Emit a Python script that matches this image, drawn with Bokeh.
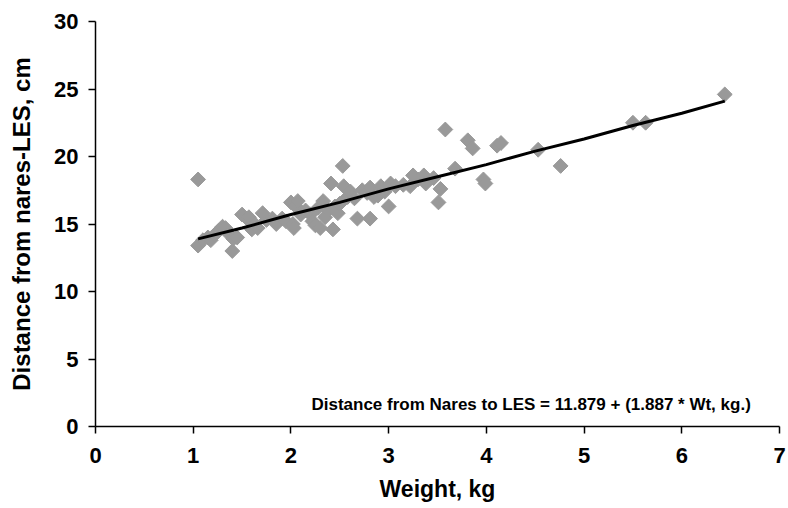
import numpy as np
from bokeh.plotting import figure
from bokeh.models import Range1d, Label, FixedTicker
from bokeh.embed import file_html
from bokeh.resources import INLINE

# Data
weight = [1.05, 1.05, 1.10, 1.15, 1.18, 1.22, 1.26, 1.30, 1.33, 1.36, 1.40, 1.41, 1.45,
          1.50, 1.55, 1.57, 1.60, 1.63, 1.66, 1.71, 1.75, 1.81, 1.85, 1.91, 1.95,
          2.00, 2.02, 2.03, 2.05, 2.07, 2.10, 2.15, 2.20, 2.22, 2.25, 2.28, 2.30,
          2.33, 2.35, 2.38, 2.41, 2.43, 2.45, 2.48, 2.50, 2.53, 2.54, 2.58, 2.61,
          2.65, 2.68, 2.73, 2.78, 2.81, 2.81, 2.85, 2.89, 2.92, 2.96, 3.00, 3.02,
          3.07, 3.15, 3.22, 3.25, 3.30, 3.36, 3.38, 3.46, 3.51, 3.53, 3.58, 3.68,
          3.81, 3.86, 3.97, 3.99, 4.11, 4.15, 4.53, 4.76, 5.50, 5.63, 6.44]
distance = [18.3, 13.4, 13.8, 14.0, 13.8, 14.2, 14.5, 14.8, 14.7, 14.3, 13.0, 13.9, 14.0,
            15.7, 15.4, 15.5, 14.6, 15.0, 14.7, 15.8, 15.3, 15.4, 15.0, 15.4, 15.2,
            16.6, 15.0, 14.7, 16.3, 16.7, 15.7, 16.0, 15.7, 15.2, 14.9, 16.2, 14.7,
            16.7, 15.5, 16.0, 18.0, 14.6, 16.3, 15.8, 16.5, 19.3, 17.8, 17.0, 17.4,
            16.9, 15.4, 17.5, 17.3, 17.7, 15.4, 17.0, 17.1, 17.8, 17.4, 16.3, 18.0,
            17.8, 17.9, 17.8, 18.6, 18.3, 18.6, 18.0, 18.4, 16.6, 17.6, 22.0, 19.1,
            21.2, 20.6, 18.3, 18.0, 20.8, 21.0, 20.5, 19.3, 22.5, 22.5, 24.6]

fit_x = [1.05, 1.5, 2.0, 2.5, 3.0, 3.5, 4.0, 4.5, 5.0, 5.5, 6.0, 6.44]
fit_y = [13.9, 14.7, 15.7, 16.6, 17.6, 18.5, 19.4, 20.4, 21.3, 22.3, 23.2, 24.1]

x_ticks = [0, 1, 2, 3, 4, 5, 6, 7]
y_ticks = [0, 5, 10, 15, 20, 25, 30]
equation = "Distance from Nares to LES = 11.879 + (1.887 * Wt, kg.)"

FONT = "Liberation Sans"

p = figure(width=788, height=508, output_backend="svg", toolbar_location=None,
           x_range=Range1d(0, 7), y_range=Range1d(0, 30),
           min_border_left=95, min_border_right=9, min_border_top=21, min_border_bottom=82)
p.outline_line_color = None
p.grid.visible = False
p.background_fill_color = "white"
p.border_fill_color = "white"

p.scatter(weight, distance, marker="square", angle=np.pi / 4, size=10.5,
          fill_color="#999999", line_color="#999999")
p.line(fit_x, fit_y, line_color="black", line_width=3)

for ax in (p.xaxis[0], p.yaxis[0]):
    ax.axis_line_color = "black"
    ax.axis_line_width = 1.5
    ax.major_tick_line_color = "black"
    ax.major_tick_line_width = 1.5
    ax.major_tick_out = 7
    ax.major_tick_in = 0
    ax.minor_tick_line_color = None
    ax.major_label_text_font = FONT
    ax.major_label_text_font_style = "bold"
    ax.major_label_text_font_size = "22px"
    ax.major_label_text_color = "black"
    ax.axis_label_text_font = FONT
    ax.axis_label_text_font_style = "bold"
    ax.axis_label_text_color = "black"

p.xaxis[0].ticker = FixedTicker(ticks=x_ticks)
p.yaxis[0].ticker = FixedTicker(ticks=y_ticks)
p.xaxis[0].axis_label = "Weight, kg"
p.yaxis[0].axis_label = "Distance from nares-LES, cm"
p.xaxis[0].axis_label_text_font_size = "23px"
p.yaxis[0].axis_label_text_font_size = "24px"
p.xaxis[0].major_label_standoff = 14
p.yaxis[0].major_label_standoff = 10
p.xaxis[0].axis_label_standoff = 10
p.yaxis[0].axis_label_standoff = 16

p.add_layout(Label(x=2.21, y=1.6, text=equation, text_font=FONT,
                   text_font_style="bold", text_font_size="17px",
                   text_baseline="middle", text_color="black"))

open("out.html", "w").write(file_html(p, INLINE))
